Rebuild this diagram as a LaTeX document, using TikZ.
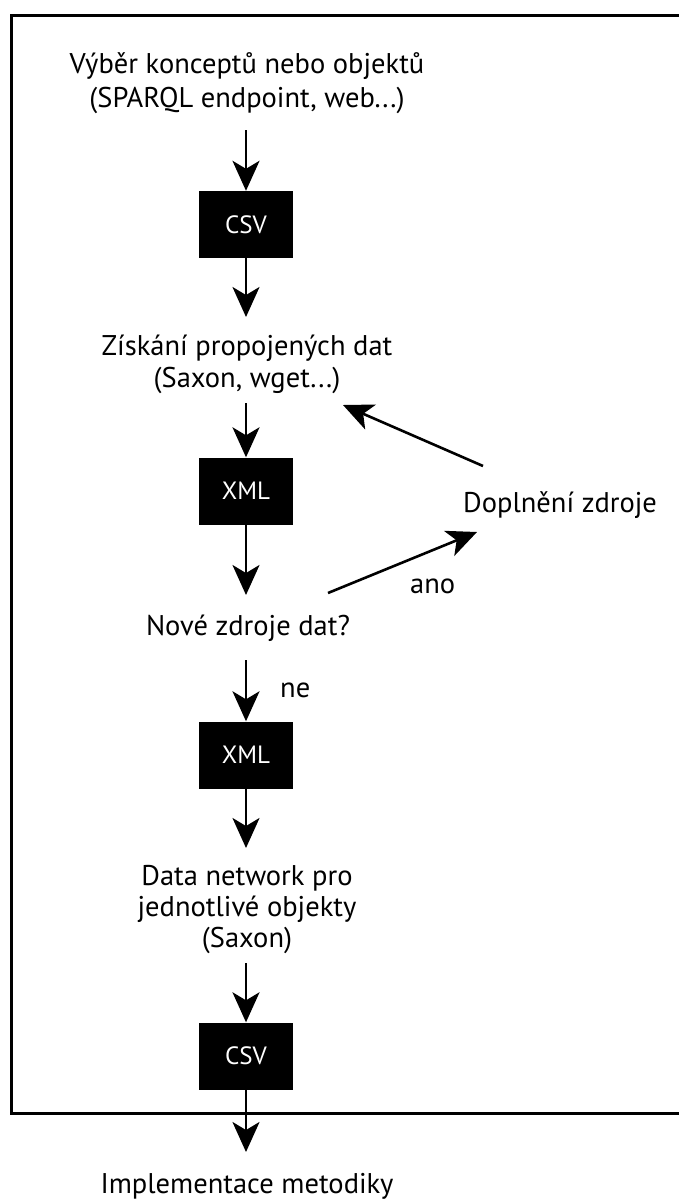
\documentclass[tikz,border=0pt]{standalone}
\usepackage{fontspec}
\setmainfont{PT Sans}
\usetikzlibrary{arrows.meta}
\tikzset{
  lbl/.style={inner sep=0pt, align=center, anchor=base, font=\fontsize{28.5}{32}\selectfont},
  blackbox/.style={fill=black, draw=none, minimum width=94pt, minimum height=67pt, inner sep=0pt, text=white, font=\fontsize{25}{28}\selectfont},
  flow/.style={line width=2.6pt, -{Stealth[length=30pt, width=27pt, inset=8pt]}},
  frame/.style={line width=3pt}
}
\begin{document}
\begin{tikzpicture}[x=1pt,y=-1pt]
\useasboundingbox (0,0) rectangle (678,1200);
\draw[frame] (720,15) -- (11,15) -- (11,1113) -- (720,1113);
% text nodes (base anchor = baseline of last line)
\node[lbl, font=\fontsize{28.5}{34}\selectfont] (t1) at (247,107) {Výběr konceptů nebo objektů\\(SPARQL endpoint, web...)};
\node[lbl] (t2) at (247,387) {Získání propojených dat\\(Saxon, wget...)};
\node[lbl] (t3) at (248,635) {Nové zdroje dat?};
\node[lbl, font=\fontsize{28.5}{31}\selectfont] (t4) at (247,947) {Data network pro\\jednotlivé objekty\\(Saxon)};
\node[lbl] (t5) at (247,1193) {Implementace metodiky};
\node[lbl, anchor=base west] (dop) at (463,512) {Doplnění zdroje};
\node[lbl, anchor=base west] (ano) at (410,593) {ano};
\node[lbl, anchor=base west] (ne) at (280,697) {ne};
% boxes
\node[blackbox] (b1) at (246,224.5) {CSV};
\node[blackbox] (b2) at (246,491) {XML};
\node[blackbox] (b3) at (246,755) {XML};
\node[blackbox] (b4) at (246,1056) {CSV};
% connector ends
\coordinate (a1s) at (246,130);
\coordinate (a2e) at (246,317);
\coordinate (a3s) at (246,403);
\coordinate (a4e) at (246,595);
\coordinate (a5s) at (246,660);
\coordinate (a6e) at (246,848);
\coordinate (a7s) at (246,963);
\coordinate (a8e) at (246,1152);
\coordinate (ds) at (483,466);
\coordinate (de) at (343,405);
\coordinate (ns) at (328,593);
\coordinate (ne2) at (477,532);
% arrows
\draw[flow] (a1s) -- (b1.north);
\draw[flow] (b1.south) -- (a2e);
\draw[flow] (a3s) -- (b2.north);
\draw[flow] (b2.south) -- (a4e);
\draw[flow] (a5s) -- (b3.north);
\draw[flow] (b3.south) -- (a6e);
\draw[flow] (a7s) -- (b4.north);
\draw[flow] (b4.south) -- (a8e);
\draw[flow] (ds) -- (de);
\draw[flow] (ns) -- (ne2);
\end{tikzpicture}
\end{document}
